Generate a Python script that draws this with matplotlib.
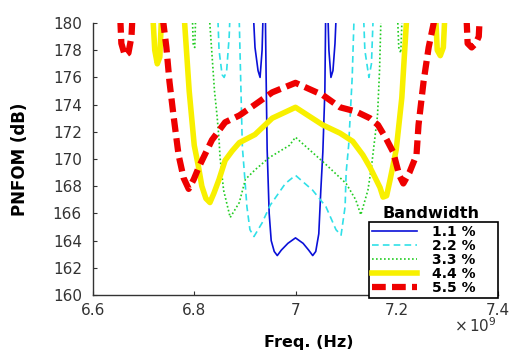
import matplotlib
matplotlib.use('Agg')
import matplotlib.pyplot as plt
from matplotlib.ticker import FuncFormatter
import numpy as np

# frequency in GHz (scaled to Hz when plotted), PNFOM in dB
# points above 180 dB are off the top of the plot
freq_bw11 = [6.915, 6.920, 6.926, 6.930, 6.934, 6.937, 6.940, 6.942, 6.944, 6.948,
             6.952, 6.958, 6.964, 6.972, 6.985, 7.000, 7.015, 7.026, 7.034, 7.040,
             7.046, 7.050, 7.054, 7.058, 7.060, 7.063, 7.066, 7.070, 7.074, 7.078, 7.082]
pnfom_bw11 = [182, 178.2, 176.5, 176.0, 178, 182, 182, 176, 170.7, 166,
              164, 163.2, 162.9, 163.3, 163.8, 164.2, 163.8, 163.3, 162.9, 163.2,
              164.5, 167.7, 170.5, 175, 182, 182, 178, 176, 176.5, 178.5, 182]

freq_bw22 = [6.845, 6.849, 6.855, 6.859, 6.864, 6.869, 6.872, 6.886, 6.889, 6.895,
             6.899, 6.904, 6.910, 6.918, 6.926, 6.934, 6.950, 6.980, 7.000, 7.034,
             7.060, 7.080, 7.090, 7.098, 7.100, 7.105, 7.112, 7.117, 7.133, 7.137,
             7.145, 7.150, 7.155]
pnfom_bw22 = [182, 178, 176.2, 176, 176.5, 179, 182, 182, 180, 170.9,
              169, 166.5, 164.8, 164.3, 164.8, 165.3, 166.6, 168.2, 168.8, 167.7,
              166.5, 164.8, 164.4, 166.5, 169, 171, 176, 182, 182, 178,
              176, 177, 182]

freq_bw33 = [6.795, 6.798, 6.801, 6.804, 6.827, 6.840, 6.845, 6.849, 6.851, 6.858,
             6.871, 6.889, 6.901, 6.920, 6.948, 6.988, 7.000, 7.060, 7.100, 7.119,
             7.129, 7.143, 7.150, 7.155, 7.162, 7.166, 7.170, 7.200, 7.204, 7.208, 7.212]
pnfom_bw33 = [182, 178.4, 178.2, 182, 182, 175, 173.2, 171.4, 170.1, 167.7,
              165.7, 166.8, 168.5, 169.2, 170.1, 171, 171.6, 169.6, 168.2, 167,
              165.9, 167.7, 169.4, 171, 173.2, 176.5, 182, 182, 178.2, 177.8, 182]

freq_bw44 = [6.716, 6.722, 6.727, 6.732, 6.737, 6.778, 6.781, 6.790, 6.800, 6.808,
             6.815, 6.823, 6.831, 6.839, 6.849, 6.861, 6.875, 6.889, 6.920, 6.954,
             7.000, 7.054, 7.088, 7.113, 7.133, 7.147, 7.167, 7.173, 7.180, 7.187,
             7.199, 7.210, 7.219, 7.222, 7.275, 7.280, 7.286, 7.292, 7.297]
pnfom_bw44 = [182, 178, 177, 177.5, 182, 182, 180, 175, 171, 169.5,
              168, 167.1, 166.8, 167.5, 168.5, 169.9, 170.6, 171.2, 171.8, 173,
              173.8, 172.5, 171.9, 171.3, 170.3, 169.4, 167.9, 167.2, 167.3, 168.5,
              170.7, 174.5, 180, 182, 182, 178, 177.6, 178.2, 182]

freq_bw55 = [6.652, 6.656, 6.663, 6.670, 6.676, 6.680, 6.736, 6.739, 6.745, 6.751,
             6.759, 6.769, 6.779, 6.789, 6.799, 6.809, 6.835, 6.861, 6.889, 6.920,
             6.954, 7.000, 7.054, 7.088, 7.119, 7.147, 7.163, 7.179, 7.193, 7.205,
             7.213, 7.225, 7.239, 7.243, 7.253, 7.263, 7.273, 7.276, 7.336, 7.340,
             7.348, 7.356, 7.362, 7.366]
pnfom_bw55 = [182, 178.5, 177.6, 177.8, 179, 182, 182, 180, 178.2, 175.7,
              173.2, 170.3, 168.6, 167.8, 168.5, 169.4, 171.4, 172.7, 173.2, 174,
              174.9, 175.6, 174.7, 173.8, 173.5, 173, 172.5, 171.5, 170.5, 168.8,
              168.2, 169, 170.3, 172.5, 175.7, 178.2, 180, 182, 182, 178.5,
              178.2, 178.5, 179, 182]

labels = ['1.1 %', '2.2 %', '3.3 %', '4.4 %', '5.5 %']
x_ticks = [6.6, 6.8, 7.0, 7.2, 7.4]
y_ticks = list(range(160, 181, 2))

fig = plt.figure(figsize=(5.14, 3.5), dpi=100)
ax = fig.add_axes([93/514, 1 - 295/350, 405/514, 272/350])

series = [
    (freq_bw11, pnfom_bw11, dict(color='#0a10d8', lw=1.2, ls='-')),
    (freq_bw22, pnfom_bw22, dict(color='#30e0e8', lw=1.2, dashes=(4, 2.5))),
    (freq_bw33, pnfom_bw33, dict(color='#22cc22', lw=1.2, dashes=(1, 1.4))),
    (freq_bw44, pnfom_bw44, dict(color='#f8f000', lw=4.0, ls='-')),
    (freq_bw55, pnfom_bw55, dict(color='#ee0000', lw=4.5, dashes=(2.2, 1.0))),
]
handles = []
for f, p, style in series:
    h, = ax.plot(np.array(f)*1e9, p, **style)
    handles.append(h)

ax.set_xlim(6.6e9, 7.4e9)
ax.set_ylim(160, 180)
ax.set_xticks([v*1e9 for v in x_ticks])
ax.set_yticks(y_ticks)
ax.xaxis.set_major_formatter(FuncFormatter(lambda v, p: '%g' % round(v/1e9, 3)))

for side in ['top', 'right']:
    ax.spines[side].set_visible(False)
for side in ['left', 'bottom']:
    ax.spines[side].set_color('#333333')
    ax.spines[side].set_linewidth(1.0)

ax.tick_params(axis='both', direction='in', length=3, width=0.8,
               colors='#333333', labelsize=11, labelcolor='#333333')
ax.tick_params(axis='y', pad=8)
ax.tick_params(axis='x', pad=6)

ax.set_ylabel('PNFOM (dB)', fontsize=12, fontweight='bold')
ax.set_xlabel('Freq. (Hz)', fontsize=11.5, fontweight='bold', va='center')
ax.xaxis.set_label_coords((309 - 93)/405, -(342 - 295)/272)
ax.yaxis.set_label_coords(-(93 - 29)/405, 0.5)

fig.text(497/514, 1 - 326/350, r'$\times\,10^{9}$', ha='right', va='center',
         fontsize=11, color='#333333')

leg = ax.legend(handles, labels, loc='lower left', mode='expand',
                bbox_to_anchor=(369/514, 1 - 298/350, 129/514, 76/350),
                bbox_transform=fig.transFigure,
                fancybox=False, edgecolor='black', framealpha=1,
                prop={'weight': 'bold', 'size': 10},
                handlelength=3.25, handletextpad=1.08, labelspacing=0.0,
                borderpad=0.2, borderaxespad=0)
leg.get_frame().set_linewidth(1.2)
fig.text(431/514, 1 - 213/350, 'Bandwidth', ha='center', va='center',
         fontsize=11.5, fontweight='bold')

fig.savefig('out.png', dpi=100)
